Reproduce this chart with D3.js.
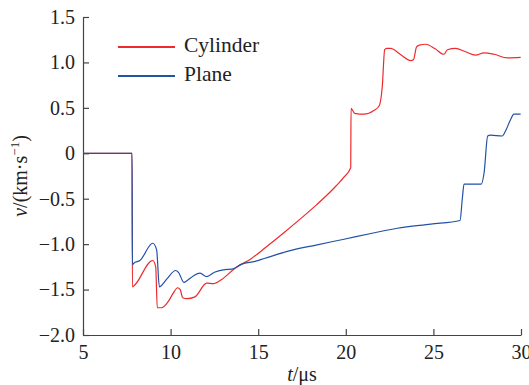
<!DOCTYPE html>
<html>
<head>
<meta charset="utf-8">
<script src="https://d3js.org/d3.v7.min.js"></script>
<style>
  body { margin: 0; background: #fff; }
  text { font-family: 'Liberation Serif', 'Times New Roman', serif; fill: #222; }
</style>
</head>
<body>
<svg id="chart" width="529" height="385"></svg>
<script>
// data
var cylT = [5, 7.8, 7.82, 7.9, 8.98, 9.15, 9.24, 9.48, 9.87, 10.15, 10.4, 10.55, 10.69, 10.92, 11.39, 12.06, 12.44, 12.91, 13.68, 14.6, 15.4, 16.43, 17.39, 18.34, 19.29, 19.86, 20.28, 20.3, 20.5, 21.04, 21.6, 21.9, 22.08, 22.22, 22.33, 22.56, 23.1, 23.7, 23.86, 24.04, 24.2, 24.56, 25.1, 25.6, 25.8, 26.27, 26.8, 27.41, 27.89, 28.46, 29.22, 29.98];
var cylV = [0, 0, -1.47, -1.46, -1.18, -1.25, -1.70, -1.70, -1.63, -1.54, -1.48, -1.50, -1.59, -1.60, -1.58, -1.43, -1.435, -1.39, -1.265, -1.16, -1.04, -0.88, -0.725, -0.565, -0.39, -0.27, -0.16, 0.495, 0.44, 0.43, 0.47, 0.52, 0.73, 1.14, 1.155, 1.155, 1.09, 1.02, 1.03, 1.17, 1.19, 1.20, 1.15, 1.09, 1.14, 1.155, 1.12, 1.08, 1.105, 1.09, 1.05, 1.055];

var plnT = [5, 7.8, 7.82, 7.9, 8.25, 8.98, 9.2, 9.36, 9.45, 9.8, 10.29, 10.45, 10.76, 10.95, 11.3, 11.68, 12.06, 12.5, 13.1, 13.49, 14.06, 14.82, 15.39, 16.66, 18.3, 19.9, 21.5, 22.94, 24.85, 26.52, 26.65, 26.75, 27.73, 27.89, 28.1, 28.25, 28.93, 29.13, 29.4, 29.6, 29.98];
var plnV = [0, 0, -1.23, -1.21, -1.18, -0.99, -1.06, -1.47, -1.46, -1.38, -1.29, -1.31, -1.42, -1.40, -1.35, -1.32, -1.357, -1.31, -1.28, -1.276, -1.22, -1.19, -1.155, -1.08, -1.01, -0.946, -0.88, -0.825, -0.78, -0.74, -0.5, -0.34, -0.34, -0.22, 0.19, 0.20, 0.19, 0.25, 0.37, 0.43, 0.43];

var xTicks = [5, 10, 15, 20, 25, 30];
var yTicks = [-2.0, -1.5, -1.0, -0.5, 0, 0.5, 1.0, 1.5];
var seriesNames = ["Cylinder", "Plane"];
var seriesColors = ["#ee2a2c", "#2152a6"];

var svg = d3.select("#chart");
var mLeft = 83, mRight = 521, mTop = 17, mBottom = 335;
var serif = "'Liberation Serif', 'Times New Roman', serif";

var x = d3.scaleLinear().domain([5, 30]).range([mLeft, mRight]);
var y = d3.scaleLinear().domain([-2, 1.5]).range([mBottom, mTop]);

//AXES
svg.append("g")
  .attr("transform", "translate(0," + mBottom + ")")
  .call(d3.axisBottom(x).tickValues(xTicks).tickSizeInner(-6).tickSizeOuter(0).tickPadding(10)
    .tickFormat(function(d){ return d; }));

svg.append("g")
  .attr("transform", "translate(" + mLeft + ",0)")
  .call(d3.axisLeft(y).tickValues(yTicks).tickSizeInner(-6).tickSizeOuter(0).tickPadding(8)
    .tickFormat(function(d){ return d === 0 ? "0" : d3.format(".1f")(d).replace("-", "\u2212"); }));

svg.selectAll("g").attr("font-family", serif);
svg.selectAll(".domain, .tick line").attr("stroke", "#444").attr("stroke-width", 1.2);
svg.selectAll(".tick text").attr("font-size", 20).style("font-family", serif).attr("fill", "#222");

// axis titles
svg.append("text")
  .attr("x", (mLeft + mRight) / 2).attr("y", 381)
  .attr("text-anchor", "middle").attr("font-size", 20)
  .html("<tspan font-style='italic'>t</tspan>/\u03bcs");

var yl = svg.append("text")
  .attr("transform", "translate(27," + (mTop + mBottom) / 2 + ") rotate(-90)")
  .attr("text-anchor", "middle").attr("font-size", 20);
yl.append("tspan").attr("font-style", "italic").text("v");
yl.append("tspan").text("/(km\u00b7s");
yl.append("tspan").attr("font-size", 13).attr("dy", -8).text("\u22121");
yl.append("tspan").attr("dy", 8).text(")");

//LINES
var line = d3.line()
  .curve(d3.curveMonotoneX)
  .x(function(d){ return x(d[0]); })
  .y(function(d){ return y(d[1]); });

var cyl = d3.zip(cylT, cylV);
var pln = d3.zip(plnT, plnV);

svg.append("path").datum(cyl)
  .attr("fill", "none").attr("stroke", seriesColors[0]).attr("stroke-width", 1.2)
  .attr("d", line);
svg.append("path").datum(pln)
  .attr("fill", "none").attr("stroke", seriesColors[1]).attr("stroke-width", 1.2)
  .attr("d", line);

//LEGEND
var legend = svg.append("g");
seriesNames.forEach(function(name, i){
  var ly = 47 + i * 29;
  legend.append("line")
    .attr("x1", 118).attr("x2", 175).attr("y1", ly).attr("y2", ly)
    .attr("stroke", seriesColors[i]).attr("stroke-width", 2);
  legend.append("text")
    .attr("x", 184).attr("y", ly + 5)
    .attr("font-size", 21.5).text(name);
});
</script>
</body>
</html>
